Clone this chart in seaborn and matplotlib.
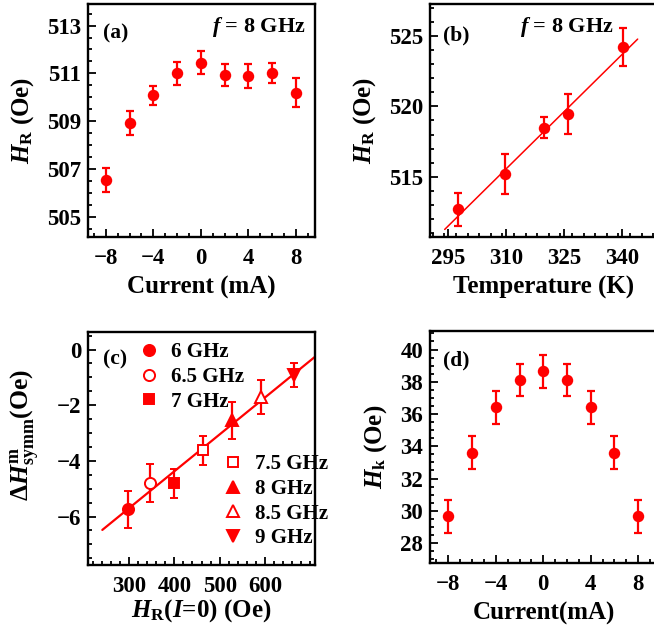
import matplotlib

matplotlib.use("Agg")

import matplotlib.pyplot as plt
import seaborn as sns
from matplotlib.ticker import FixedLocator, MultipleLocator

# (a) resonance field vs current, f = 8 GHz
current_a = [-8, -6, -4, -2, 0, 2, 4, 6, 8]
hr_a = [506.55, 508.92, 510.08, 511.0, 511.45, 510.93, 510.9, 511.03, 510.2]
hr_a_err = [0.5, 0.5, 0.4, 0.47, 0.48, 0.47, 0.49, 0.42, 0.6]
ticks_a_x = [-8, -4, 0, 4, 8]
ticks_a_y = [505, 507, 509, 511, 513]

# (b) resonance field vs temperature, f = 8 GHz
temp_b = [297.6, 309.8, 319.7, 325.9, 340.2]
hr_b = [512.67, 515.2, 518.48, 519.48, 524.24]
hr_b_err = [1.2, 1.43, 0.76, 1.42, 1.33]
fit_b_temp = [294.1, 344.0]
fit_b_hr = [511.24, 524.8]
ticks_b_x = [295, 310, 325, 340]
ticks_b_y = [515, 520, 525]

# (c) symmetric linewidth change vs HR(I=0)
freq_c = ["6 GHz", "6.5 GHz", "7 GHz", "7.5 GHz", "8 GHz", "8.5 GHz", "9 GHz"]
hr0_c = [298.5, 347, 400, 462.6, 526.5, 591, 665]
dh_c = [-5.74, -4.79, -4.81, -3.62, -2.54, -1.70, -0.92]
dh_c_err = [0.66, 0.67, 0.52, 0.52, 0.67, 0.62, 0.43]
marker_c = ["o", "o", "s", "s", "^", "^", "v"]
filled_c = [True, False, True, False, True, False, True]
fit_c_hr = [241, 712]
fit_c_dh = [-6.48, -0.24]
ticks_c_x = [300, 400, 500, 600]
ticks_c_y = [-6, -4, -2, 0]

# (d) anisotropy field vs current
current_d = [-8, -6, -4, -2, 0, 2, 4, 6, 8]
hk_d = [29.65, 33.61, 36.41, 38.1, 38.64, 38.1, 36.41, 33.61, 29.65]
hk_d_err = [1.0, 1.0, 1.0, 1.0, 1.0, 1.0, 1.0, 1.0, 1.0]
ticks_d_x = [-8, -4, 0, 4, 8]
ticks_d_y = [28, 30, 32, 34, 36, 38, 40]

RED = "#ff0000"
TICK_FS = 16.5
LABEL_FS = 18
NOTE_FS = 15.5

sns.set_theme(style="ticks")
plt.rcParams["font.family"] = ["Liberation Serif", "DejaVu Serif"]
plt.rcParams["font.weight"] = "bold"
plt.rcParams["mathtext.fontset"] = "custom"
plt.rcParams["mathtext.rm"] = "Liberation Serif:bold"
plt.rcParams["mathtext.it"] = "Liberation Serif:bold:italic"
plt.rcParams["mathtext.bf"] = "Liberation Serif:bold"
plt.rcParams["axes.edgecolor"] = "black"
plt.rcParams["text.color"] = "black"
plt.rcParams["axes.labelcolor"] = "black"
plt.rcParams["xtick.color"] = "black"
plt.rcParams["ytick.color"] = "black"

fig = plt.figure(figsize=(6.54, 6.29), dpi=100)
W, H = 654, 629


def make_axes(left, top, bottom, width=227):
    return fig.add_axes([left / W, 1 - bottom / H, width / W, (bottom - top) / H])


def style(ax, xticks, xmin, yticks, ymin):
    ax.xaxis.set_major_locator(FixedLocator(xticks))
    ax.xaxis.set_minor_locator(MultipleLocator(xmin))
    ax.yaxis.set_major_locator(FixedLocator(yticks))
    ax.yaxis.set_minor_locator(MultipleLocator(ymin))
    ax.tick_params(which="both", direction="in", top=False, right=False,
                   labelsize=TICK_FS, width=1.3, colors="black")
    ax.tick_params(which="major", length=6)
    ax.tick_params(axis="x", which="major", pad=8)
    ax.tick_params(axis="y", which="major", pad=5)
    ax.tick_params(which="minor", length=3)
    for lab in ax.get_xticklabels() + ax.get_yticklabels():
        lab.set_fontweight("bold")
    for sp in ax.spines.values():
        sp.set_visible(True)
        sp.set_linewidth(1.7)


def points(ax, x, y, err):
    ax.errorbar(x, y, yerr=err, fmt="none", ecolor=RED, elinewidth=1.6,
                capsize=2.8, capthick=1.6, zorder=2)
    sns.scatterplot(x=x, y=y, ax=ax, color=RED, s=68, edgecolor=RED,
                    linewidth=0, zorder=3, legend=False)


def labels(ax, xlab, ylab, yfs=LABEL_FS, xpad=5):
    ax.set_xlabel(xlab, fontsize=LABEL_FS, fontweight="bold", labelpad=xpad)
    ax.set_ylabel(ylab, fontsize=yfs, fontweight="bold", labelpad=8)


# ---- (a)
ax_a = make_axes(88, 4, 237)
points(ax_a, current_a, hr_a, hr_a_err)
ax_a.set_xlim(-9.5, 9.6)
ax_a.set_ylim(504.17, 513.9)
style(ax_a, ticks_a_x, 1, ticks_a_y, 0.5)
labels(ax_a, "Current (mA)", r"$\mathit{H}_{\mathrm{R}}$ (Oe)")
ax_a.text(0.066, 0.875, "(a)", transform=ax_a.transAxes, fontsize=NOTE_FS,
          fontweight="bold", va="center")
ax_a.text(0.96, 0.9, r"$\mathit{f}$ = 8 GHz", transform=ax_a.transAxes,
          fontsize=NOTE_FS + 0.5, fontweight="bold", va="center", ha="right")

# ---- (b)
ax_b = make_axes(430, 4, 237)
sns.lineplot(x=fit_b_temp, y=fit_b_hr, ax=ax_b, color=RED, linewidth=1.1)
points(ax_b, temp_b, hr_b, hr_b_err)
ax_b.set_xlim(290.3, 349.0)
ax_b.set_ylim(510.7, 527.3)
style(ax_b, ticks_b_x, 3, ticks_b_y, 1)
labels(ax_b, "Temperature (K)", r"$\mathit{H}_{\mathrm{R}}$ (Oe)")
ax_b.text(0.057, 0.867, "(b)", transform=ax_b.transAxes, fontsize=NOTE_FS,
          fontweight="bold", va="center")
ax_b.text(0.395, 0.9, r"$\mathit{f}$ = 8 GHz", transform=ax_b.transAxes,
          fontsize=NOTE_FS + 0.5, fontweight="bold", va="center", ha="left")

# ---- (c)
ax_c = make_axes(88, 332, 565)
sns.lineplot(x=fit_c_hr, y=fit_c_dh, ax=ax_c, color=RED, linewidth=1.6)
handles = []
for xv, yv, ev, mk, fl, lab in zip(hr0_c, dh_c, dh_c_err, marker_c, filled_c, freq_c):
    h = ax_c.errorbar([xv], [yv], yerr=[ev], fmt=mk, color=RED, ecolor=RED,
                      markersize=8 if mk != "s" else 7.5,
                      markerfacecolor=RED if fl else "white",
                      markeredgecolor=RED, markeredgewidth=1.4,
                      elinewidth=1.6, capsize=2.8, capthick=1.6, label=lab,
                      zorder=3)
    handles.append(h[0])
ax_c.set_xlim(209.4, 710.5)
ax_c.set_ylim(-7.74, 0.63)
style(ax_c, ticks_c_x, 20, ticks_c_y, 0.5)
labels(ax_c, r"$\mathit{H}_{\mathrm{R}}(\mathit{I}$=0) (Oe)",
       r"$\Delta\mathit{H}^{\mathrm{m}}_{\mathrm{symm}}$(Oe)", yfs=18.5, xpad=0)
ax_c.yaxis.set_label_coords(-0.205, 0.56)
ax_c.text(0.066, 0.88, "(c)", transform=ax_c.transAxes, fontsize=NOTE_FS,
          fontweight="bold", va="center")
leg_font = {"size": 15, "weight": "bold"}
leg_kw = dict(frameon=False, prop=leg_font, handlelength=1.0,
              handletextpad=0.55, labelspacing=0.22, borderpad=0,
              borderaxespad=0)
leg1 = ax_c.legend(handles[:3], freq_c[:3], loc="upper left",
                   bbox_to_anchor=(0.225, 0.955), **leg_kw)
ax_c.add_artist(leg1)
ax_c.legend(handles[3:], freq_c[3:], loc="lower left",
            bbox_to_anchor=(0.595, 0.072), **leg_kw)

# ---- (d)
ax_d = make_axes(430, 331, 563)
points(ax_d, current_d, hk_d, hk_d_err)
ax_d.set_xlim(-9.54, 9.58)
ax_d.set_ylim(26.76, 41.15)
style(ax_d, ticks_d_x, 1, ticks_d_y, 0.5)
labels(ax_d, "Current(mA)", r"$\mathit{H}_{\mathrm{k}}$ (Oe)")
ax_d.text(0.057, 0.875, "(d)", transform=ax_d.transAxes, fontsize=NOTE_FS,
          fontweight="bold", va="center")

fig.savefig("out.png", dpi=100)
plt.close(fig)
